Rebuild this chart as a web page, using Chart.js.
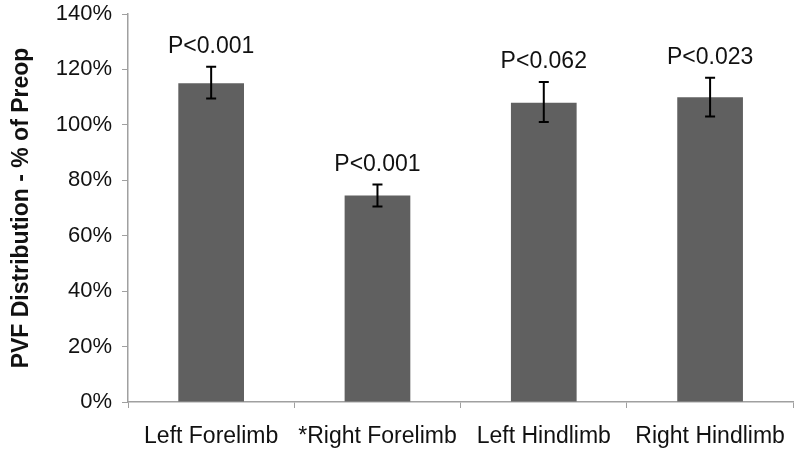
<!DOCTYPE html>
<html>
<head>
<meta charset="utf-8">
<script src="https://cdn.jsdelivr.net/npm/chart.js@4"></script>
<style>
  html, body { margin: 0; padding: 0; background: #fff; }
  #wrap { width: 800px; height: 452px; }
</style>
</head>
<body>
<div id="wrap"><canvas id="myChart"></canvas></div>
<script>
const categories = ["Left Forelimb", "*Right Forelimb", "Left Hindlimb", "Right Hindlimb"];
const meanValues = [115, 74.5, 108, 110];
const errLow = [109.5, 70.5, 101, 103];
const errHigh = [121, 78.5, 115.5, 117];
const pLabels = ["P<0.001", "P<0.001", "P<0.062", "P<0.023"];
const yMin = 0, yMax = 140, yStep = 20;

const fontFamily = "'Liberation Sans', Arial, sans-serif";
const axisGray = "#a0a0a0";

// error bars + p-value text above them
const errorBars = {
    id: "errorBars",
    afterDatasetsDraw(chart) {
        const c = chart.ctx;
        const meta = chart.getDatasetMeta(0);
        const y = chart.scales.y;
        c.save();
        c.strokeStyle = "#000";
        c.lineWidth = 2;
        meta.data.forEach((bar, i) => {
            const x = bar.x;
            const top = y.getPixelForValue(errHigh[i]);
            const bottom = y.getPixelForValue(errLow[i]);
            c.beginPath();
            c.moveTo(x, top);
            c.lineTo(x, bottom);
            c.moveTo(x - 5, top);
            c.lineTo(x + 5, top);
            c.moveTo(x - 5, bottom);
            c.lineTo(x + 5, bottom);
            c.stroke();

            c.fillStyle = "#111";
            c.font = "23px " + fontFamily;
            c.textAlign = "center";
            c.textBaseline = "middle";
            c.fillText(pLabels[i], x, top - 20);
        });
        c.restore();
    }
};

const ctx = document.getElementById("myChart");
new Chart(ctx, {
    type: "bar",
    data: {
        labels: categories,
        datasets: [
            {
                data: meanValues,
                backgroundColor: "#606060",
                borderWidth: 0,
                barPercentage: 1,
                categoryPercentage: 0.395,
            },
        ],
    },
    options: {
        responsive: true,
        maintainAspectRatio: false,
        animation: false,
        layout: { padding: { top: 0, right: 1, bottom: 0, left: 0 } },
        plugins: {
            legend: { display: false },
            tooltip: { enabled: false },
        },
        scales: {
            x: {
                grid: {
                    drawOnChartArea: false,
                    drawTicks: true,
                    tickLength: 6,
                    color: axisGray,
                    offset: true,
                },
                border: { color: axisGray, width: 1.5 },
                ticks: {
                    color: "#111",
                    font: { family: fontFamily, size: 23 },
                    padding: 15,
                    maxRotation: 0,
                    autoSkip: false,
                },
                afterFit(scale) {
                    scale.height = 50;
                },
            },
            y: {
                min: yMin,
                max: yMax,
                grid: {
                    drawOnChartArea: false,
                    drawTicks: true,
                    tickLength: 6,
                    color: axisGray,
                },
                border: { color: axisGray, width: 1.5 },
                ticks: {
                    stepSize: yStep,
                    color: "#111",
                    font: { family: fontFamily, size: 22 },
                    padding: 10,
                    callback: (v) => v + "%",
                },
                title: {
                    display: true,
                    text: "PVF Distribution - % of Preop",
                    color: "#111",
                    font: { family: fontFamily, size: 23, weight: "bold" },
                    padding: { top: 8, bottom: 0 },
                },
                afterFit(scale) {
                    scale.width = 128;
                    scale.paddingTop = 14;
                    scale.paddingBottom = 0;
                },
            },
        },
    },
    plugins: [errorBars],
});
</script>
</body>
</html>
